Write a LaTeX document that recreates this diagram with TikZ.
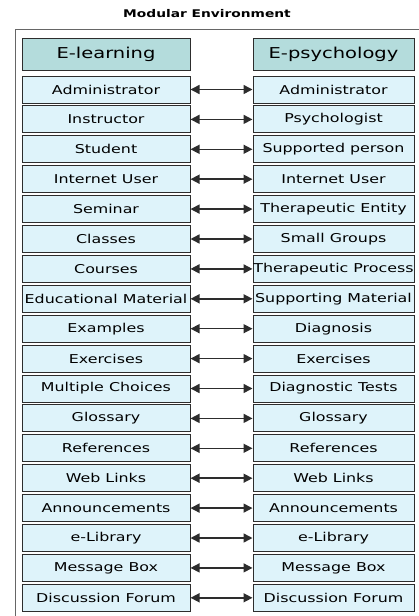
\documentclass[tikz,border=0pt]{standalone}
\usepackage{fontspec}
\setmainfont{DejaVu Sans}[FakeStretch=1.3]
\usetikzlibrary{arrows.meta}
\definecolor{headfill}{RGB}{180,220,220}
\definecolor{rowfill}{RGB}{222,243,250}
\definecolor{edge}{RGB}{45,45,45}
\begin{document}
\begin{tikzpicture}
  [x=1pt,y=-1pt,
   lbox/.style={draw=edge,fill=rowfill,line width=1pt,minimum width=168pt,minimum height=27pt,inner sep=0pt,font=\fontsize{12.2}{14}\selectfont},
   rbox/.style={lbox,minimum width=161pt},
   headbox/.style={lbox,fill=headfill,minimum height=32pt,font=\fontsize{15}{18}\selectfont},
   link/.style={edge,line width=1.5pt,{Triangle[length=9pt,width=9pt]}-{Triangle[length=9pt,width=9pt]}}]
  \useasboundingbox (0,0) rectangle (419,616);
  \draw[black!60,line width=1pt] (15,616) -- (15,29) -- (419,29);
  \node (title) at (207,14) {\fontsize{10.6}{12}\selectfont\bfseries Modular Environment};
  \node[headbox] (lhead) at (106,54) {E-learning};
  \node[headbox,minimum width=161pt] (rhead) at (333.5,54) {E-psychology};
  \foreach \a/\b [count=\i] in {Administrator/Administrator, Instructor/Psychologist,
    Student/Supported person, Internet User/Internet User, Seminar/Therapeutic Entity,
    Classes/Small Groups, Courses/Therapeutic Process, Educational Material/Supporting Material,
    Examples/Diagnosis, Exercises/Exercises, Multiple Choices/Diagnostic Tests,
    Glossary/Glossary, References/References, Web Links/Web Links,
    Announcements/Announcements, e-Library/e-Library, Message Box/Message Box,
    Discussion Forum/Discussion Forum}
  {
    \node[lbox] (l\i) at (106,{89.5+29.9*(\i-1)}) {\a};
    \node[rbox] (r\i) at (333.5,{89.5+29.9*(\i-1)}) {\b};
    \draw[link] (l\i.east) -- (r\i.west);
  }
\end{tikzpicture}
\end{document}
